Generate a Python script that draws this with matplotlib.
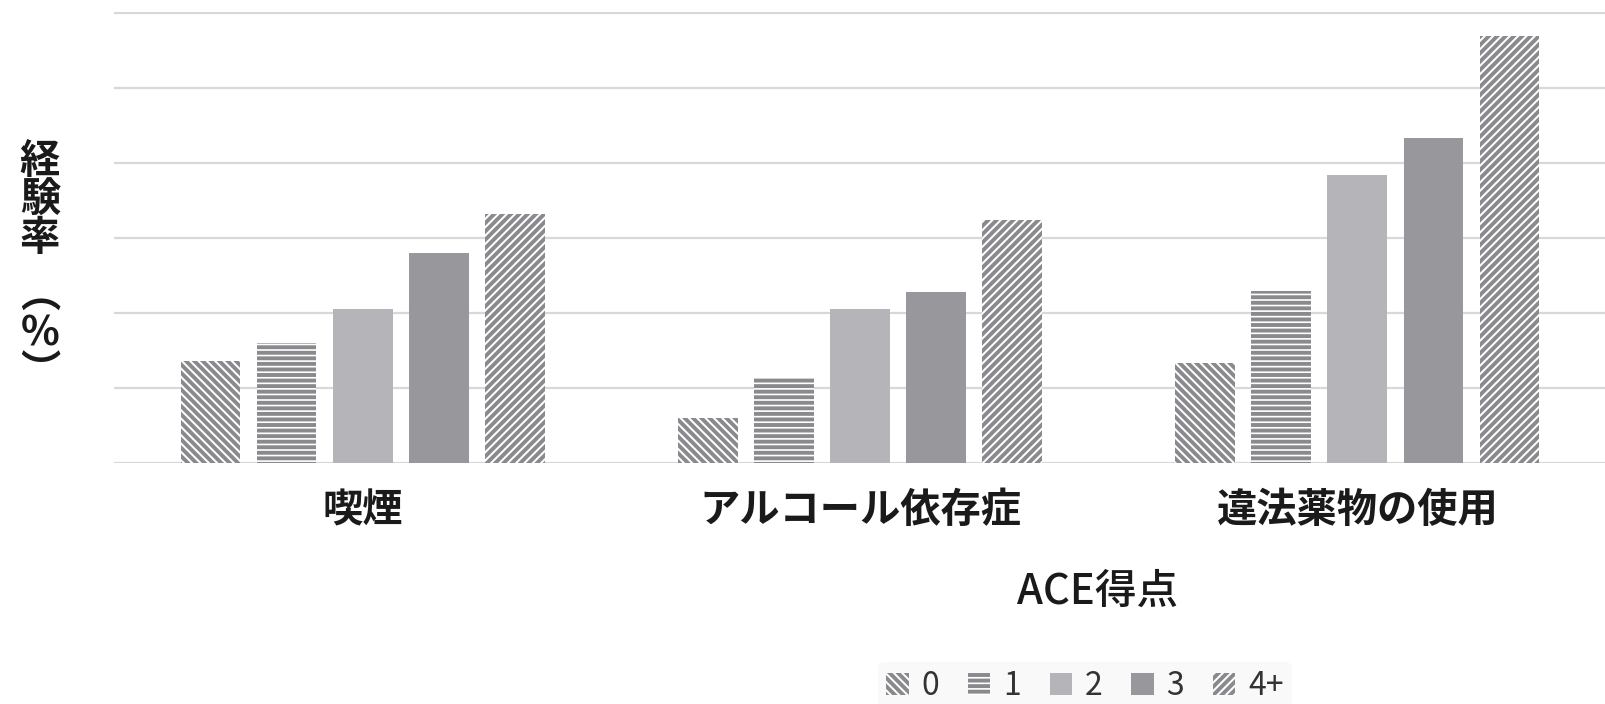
import matplotlib
matplotlib.use("Agg")
import matplotlib.pyplot as plt
import numpy as np

plt.rcParams['font.family'] = ['Noto Sans CJK JP', 'DejaVu Sans']
plt.rcParams['hatch.linewidth'] = 2.8

# data (experience rate, %; one gridline = 5 %)
categories = ["喫煙", "アルコール依存症", "違法薬物の使用"]
series_labels = ["0", "1", "2", "3", "4+"]
ace_0 = [6.8, 3.0, 6.7]
ace_1 = [8.0, 5.7, 11.5]
ace_2 = [10.3, 10.3, 19.2]
ace_3 = [14.0, 11.4, 21.7]
ace_4 = [16.6, 16.2, 28.5]
series = [ace_0, ace_1, ace_2, ace_3, ace_4]

faces = ["white", "white", "#b5b5b9", "#98989c", "white"]
hatches = ["\\\\\\\\", "---", None, None, "////"]

fig = plt.figure(figsize=(16.06, 7.04), dpi=100)
ax = fig.add_axes([114 / 1606, 1 - 463 / 704, 1 - 114 / 1606, 451.5 / 704])

x = np.arange(len(categories))
pitch = 0.153
width = 0.12
for i, vals in enumerate(series):
    ax.bar(x + (i - 2) * pitch, vals, width, color=faces[i], hatch=hatches[i],
           edgecolor="#8a8a8e" if hatches[i] else faces[i], linewidth=0,
           label=series_labels[i], zorder=3)

ax.set_xlim(-0.5, 2.5)
ax.set_ylim(0, 30.1)
ax.set_yticks(np.arange(0, 31, 5))
ax.yaxis.grid(True, color="#d8d8d8", linewidth=1.6)
ax.set_axisbelow(True)
ax.tick_params(left=False, bottom=False, labelleft=False)
for s in ax.spines.values():
    s.set_visible(False)
ax.set_xticks(x)
ax.set_xticklabels(categories, fontsize=29, fontweight="bold", color="#1a1a1a")
ax.tick_params(axis="x", pad=16)

# vertical y label in two parts
fig.text(40 / 1606, 1 - 200 / 704, "経\n験\n率", ha="center", va="center",
         fontsize=29, fontweight="bold", color="#1a1a1a", linespacing=0.92)
fig.text(40 / 1606, 1 - 334 / 704, "︵\n%\n︶", ha="center", va="center",
         fontsize=29, fontweight="bold", color="#1a1a1a", linespacing=0.92)
fig.text(1098 / 1606, 1 - 591 / 704, "ACE得点", ha="center", va="center",
         fontsize=30, fontweight="medium", color="#1a1a1a")

leg = fig.legend(loc="center", bbox_to_anchor=(1085 / 1606, 1 - 686 / 704), ncol=5,
                 fontsize=23, frameon=True, handlelength=0.7, handleheight=0.7,
                 columnspacing=0.9, handletextpad=0.4, borderpad=0.25)
leg.get_frame().set_facecolor("#f8f8f8")
leg.get_frame().set_edgecolor("none")
for t in leg.get_texts():
    t.set_color("#333333")

fig.savefig("out.png", dpi=100)
